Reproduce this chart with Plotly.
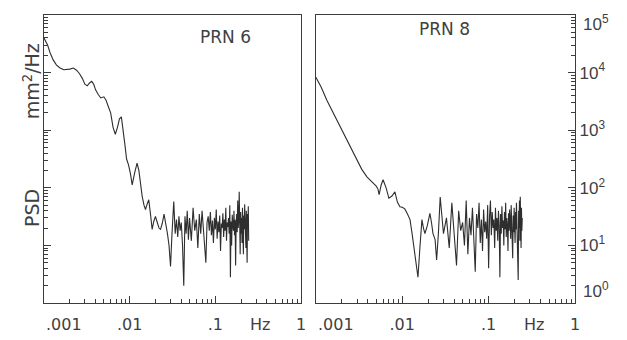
import plotly.graph_objects as go

# ---------------- data ----------------
prn6_freq = [
    0.00100, 0.00110, 0.00118, 0.00128, 0.00140, 0.00154, 0.00170, 0.00185, 0.00200, 0.00220,
    0.00240, 0.00260, 0.00280, 0.00300, 0.00320, 0.00340, 0.00360, 0.00380, 0.00400, 0.00430,
    0.00460, 0.00500, 0.00530, 0.00560, 0.00600, 0.00640, 0.00680, 0.00720, 0.00760, 0.00800,
    0.00840, 0.00880, 0.00920, 0.00970, 0.0102, 0.0107, 0.0114, 0.0122, 0.0128, 0.0134,
    0.0140, 0.0147, 0.0153, 0.0160, 0.0167, 0.0175, 0.0183, 0.0191, 0.0200, 0.0210,
    0.0220, 0.0229, 0.0240, 0.0252, 0.0264, 0.0276, 0.0288, 0.0300, 0.0312, 0.0327,
    0.0340, 0.0352, 0.0364, 0.0376, 0.0388, 0.0400, 0.0414, 0.0428, 0.0442, 0.0456,
    0.0470, 0.0485,
    0.0500, 0.0525, 0.0550, 0.0575, 0.0600, 0.0625, 0.0650, 0.0675, 0.0700, 0.0725,
    0.0750, 0.0775, 0.0800, 0.0825, 0.0850, 0.0875, 0.0900, 0.0925, 0.0950, 0.0975,
    0.1000, 0.1025, 0.1050, 0.1075, 0.1100, 0.1125, 0.1150, 0.1175, 0.1200, 0.1225,
    0.1250, 0.1275, 0.1300, 0.1325, 0.1350, 0.1375, 0.1400, 0.1425, 0.1450, 0.1475,
    0.1500, 0.1525, 0.1550, 0.1575, 0.1600, 0.1625, 0.1650, 0.1675, 0.1700, 0.1725,
    0.1750, 0.1775, 0.1800, 0.1825, 0.1850, 0.1875, 0.1900, 0.1925, 0.1950, 0.1975,
    0.2000, 0.2025, 0.2050, 0.2075, 0.2100, 0.2125, 0.2150, 0.2175, 0.2200, 0.2225,
    0.2250, 0.2275, 0.2300, 0.2325, 0.2350, 0.2375, 0.2400, 0.2425, 0.2450,
]
prn6_psd = [
    39800, 30200, 21900, 16600, 13500, 12000, 11200, 11200, 11500, 12000,
    11000, 9550, 7940, 6310, 5890, 6610, 7080, 6310, 5010, 4170,
    3630, 3800, 3310, 2630, 2000, 1120, 851, 1120, 1580, 1700,
    1050, 562, 316, 251, 178, 112, 178, 269, 200, 112,
    71, 50, 42, 52, 62, 35, 19, 26, 32, 25,
    20, 19, 24, 35, 25, 16, 10, 4.3, 16, 58,
    16, 28, 14, 32, 18, 25, 10, 2.0, 32, 16,
    40, 12.6,
    30, 12, 45, 18, 28, 9, 35, 16, 40, 20,
    14, 5, 25, 32, 18, 38, 15, 27, 11, 30,
    19, 42, 13, 26, 17, 33, 8, 24, 20, 36,
    14, 28, 18, 45, 12, 25, 21, 30, 16, 50,
    2.8, 26, 10, 34, 22, 18, 40, 15, 28, 4.5,
    24, 35, 17, 60, 20, 27, 85, 13, 7, 38,
    16, 30, 11, 45, 22, 7, 33, 19, 52, 14,
    28, 9, 40, 18, 5, 35, 20, 48, 12,
]

prn8_freq = [
    0.00100, 0.00115, 0.00134, 0.00155, 0.00175, 0.00200, 0.00228, 0.00260, 0.00298, 0.00340,
    0.00390, 0.00450, 0.00500, 0.00523, 0.00540, 0.00570, 0.00600, 0.00650, 0.00700, 0.00760,
    0.00822, 0.00880, 0.00940, 0.0100, 0.0107, 0.0115, 0.0123, 0.0130, 0.0140, 0.0148,
    0.0152, 0.0160, 0.0169, 0.0176, 0.0183, 0.0195, 0.0209, 0.0218, 0.0227, 0.0240,
    0.0250, 0.0262, 0.0275, 0.0288, 0.0300,
    0.0325, 0.0350, 0.0375, 0.0400, 0.0425, 0.0450, 0.0475, 0.0500, 0.0525, 0.0550,
    0.0575, 0.0600, 0.0625, 0.0650, 0.0675, 0.0700, 0.0725, 0.0750, 0.0775, 0.0800,
    0.0825, 0.0850, 0.0875, 0.0900, 0.0925, 0.0950, 0.0975, 0.1000, 0.1025, 0.1050,
    0.1075, 0.1100, 0.1125, 0.1150, 0.1175, 0.1200, 0.1225, 0.1250, 0.1275, 0.1300,
    0.1325, 0.1350, 0.1375, 0.1400, 0.1425, 0.1450, 0.1475, 0.1500, 0.1525, 0.1550,
    0.1575, 0.1600, 0.1625, 0.1650, 0.1675, 0.1700, 0.1725, 0.1750, 0.1775, 0.1800,
    0.1825, 0.1850, 0.1875, 0.1900, 0.1925, 0.1950, 0.1975, 0.2000, 0.2025, 0.2050,
    0.2075, 0.2100, 0.2125, 0.2150, 0.2175, 0.2200, 0.2225, 0.2250, 0.2275, 0.2300,
    0.2325, 0.2350, 0.2375, 0.2400, 0.2425, 0.2450,
]
prn8_psd = [
    8300, 5600, 3300, 2140, 1510, 955, 676, 457, 302, 209,
    155, 123, 107, 95, 76, 112, 138, 100, 66, 72,
    85, 56, 47, 46, 43, 35, 28, 16, 7.4, 4,
    2.8, 9, 28, 20, 16, 22, 36, 25, 16, 12.6,
    5.6, 16, 69, 32, 16,
    30, 9, 55, 14, 4.5, 40, 18, 25, 10, 60,
    7, 30, 15, 45, 12, 3.5, 35, 20, 55, 11,
    28, 8, 42, 17, 26, 13, 50, 4, 32, 60,
    15, 38, 20, 28, 9, 45, 18, 30, 12, 40,
    22, 2.8, 35, 16, 48, 20, 27, 10, 38, 19,
    55, 14, 30, 22, 8, 36, 18, 42, 25, 13,
    50, 21, 29, 6, 33, 17, 45, 24, 11, 38,
    19, 55, 15, 30, 7, 2.5, 40, 20, 60, 12,
    70, 25, 9, 45, 18, 30,
]

panel_titles = ["PRN 6", "PRN 8"]
x_major = [0.001, 0.01, 0.1, 1]
x_major_text = ["", ".01", ".1", "1"]
y_major = [1, 10, 100, 1000, 10000, 100000]
y_major_text = ["", "10<sup>1</sup>", "10<sup>2</sup>",
                "10<sup>3</sup>", "10<sup>4</sup>", ""]
y_end_text = {"bottom": "10<sup>0</sup>", "top": "10<sup>5</sup>"}

# ---------------- styling ----------------
INK = "#3c3c3c"
TEXT = "#3f3f3f"
FONT = "DejaVu Sans, Verdana, sans-serif"
NUMFONT = "Liberation Sans, Arial, sans-serif"

x_minor = [m * 10 ** e for e in (-3, -2, -1) for m in range(2, 10)]
y_minor = [m * 10 ** e for e in range(0, 5) for m in range(2, 10)]

fig = go.Figure()
fig.add_trace(go.Scatter(x=prn6_freq, y=prn6_psd, mode="lines",
                         line=dict(color="#2e2e2e", width=1.1), xaxis="x", yaxis="y",
                         showlegend=False))
fig.add_trace(go.Scatter(x=prn8_freq, y=prn8_psd, mode="lines",
                         line=dict(color="#2e2e2e", width=1.1), xaxis="x2", yaxis="y2",
                         showlegend=False))

xcommon = dict(type="log", range=[-3, 0], showline=True, mirror=True, automargin=False,
               linecolor=INK, linewidth=1.3, showgrid=False, zeroline=False,
               ticks="inside", ticklen=7, tickwidth=1, tickcolor=INK,
               tickmode="array", tickvals=x_major, ticktext=x_major_text,
               tickfont=dict(size=16, color=TEXT, family=FONT),
               ticklabelstandoff=7, ticklabeloverflow="allow",
               minor=dict(tickmode="array", tickvals=x_minor, ticks="inside",
                          ticklen=4, tickwidth=1, tickcolor=INK, showgrid=False))
ycommon = dict(type="log", range=[0, 5], showline=True, mirror=True, automargin=False,
               linecolor=INK, linewidth=1.3, showgrid=False, zeroline=False,
               ticks="inside", ticklen=7, tickwidth=1, tickcolor=INK,
               tickmode="array", tickvals=y_major, ticktext=y_major_text,
               tickfont=dict(size=17, color=TEXT, family=NUMFONT),
               ticklabeloverflow="allow",
               minor=dict(tickmode="array", tickvals=y_minor, ticks="inside",
                          ticklen=4, tickwidth=1, tickcolor=INK, showgrid=False))

# the page body adds an 8px offset, so the figure is 8px smaller than the window
fig.update_layout(
    width=619, height=332,
    margin=dict(l=36, r=52, t=7, b=37, autoexpand=False),
    paper_bgcolor="white", plot_bgcolor="white",
    font=dict(family=FONT, color=TEXT),
    xaxis=dict(domain=[0, 0.484], anchor="y", **xcommon),
    xaxis2=dict(domain=[0.512, 1], anchor="y2", **xcommon),
    yaxis=dict(domain=[0, 1], anchor="x", side="left", showticklabels=False, **ycommon),
    yaxis2=dict(domain=[0, 1], anchor="x2", side="right", ticklabelstandoff=0, **ycommon),
)

ann = []
# panel titles
ann.append(dict(text=panel_titles[0], xref="paper", yref="paper", x=0.29, y=0.967,
                showarrow=False, font=dict(size=17, color=TEXT, family=FONT)))
ann.append(dict(text=panel_titles[1], xref="paper", yref="paper", x=0.806, y=0.994,
                showarrow=False, font=dict(size=17, color=TEXT, family=FONT)))
# y-axis title pieces
ann.append(dict(text="mm<sup>2</sup>/Hz", xref="paper", yref="paper", x=-0.050, y=0.91,
                textangle=-90, showarrow=False, font=dict(size=19, color=TEXT, family=FONT)))
ann.append(dict(text="PSD", xref="paper", yref="paper", x=-0.048, y=0.255,
                textangle=-90, showarrow=False, font=dict(size=19, color=TEXT, family=FONT)))
# end labels of the right-hand y axis, drawn slightly inside the axis span
ann.append(dict(text=y_end_text["top"], xref="paper", yref="paper", x=1, y=0.972,
                xanchor="left", yanchor="middle", xshift=6, showarrow=False,
                font=dict(size=17, color=TEXT, family=NUMFONT)))
ann.append(dict(text=y_end_text["bottom"], xref="paper", yref="paper", x=1, y=0.045,
                xanchor="left", yanchor="middle", xshift=6, showarrow=False,
                font=dict(size=17, color=TEXT, family=NUMFONT)))
# extra x labels: ".001" sits right of its tick, "Hz" between .1 and 1
for xr in ("x", "x2"):
    ann.append(dict(text=".001", xref=xr, yref="paper", x=-3, y=-0.076,
                    xanchor="left", yanchor="middle", showarrow=False,
                    font=dict(size=16, color=TEXT, family=FONT)))
    ann.append(dict(text="Hz", xref=xr, yref="paper", x=-0.48, y=-0.076,
                    xanchor="center", yanchor="middle", showarrow=False,
                    font=dict(size=16, color=TEXT, family=FONT)))
fig.update_layout(annotations=ann)

fig.write_html("out.html")
